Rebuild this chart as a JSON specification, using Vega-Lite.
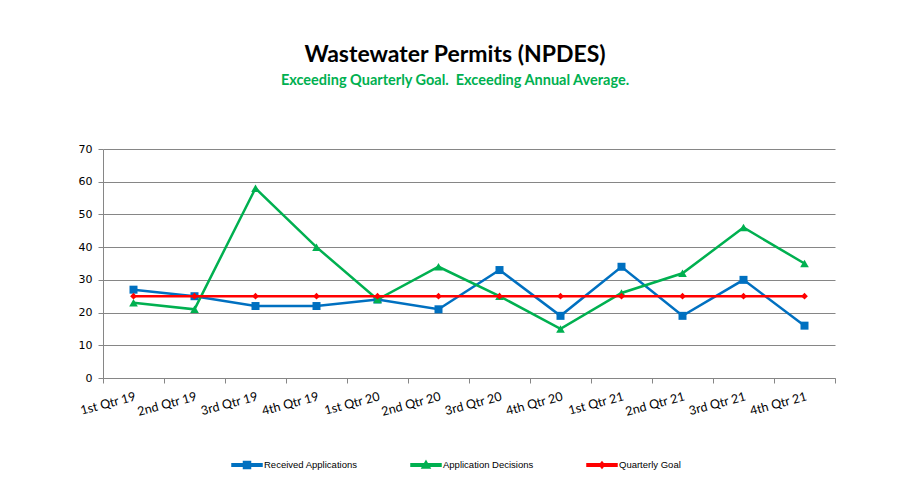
{
  "$schema": "https://vega.github.io/schema/vega-lite/v6.json",
  "autosize": "none",
  "width": 732,
  "height": 229,
  "padding": {"left": 103, "top": 149, "right": 67, "bottom": 118},
  "background": "white",
  "title": {
    "text": "Wastewater Permits (NPDES)",
    "subtitle": "Exceeding Quarterly Goal.\u00a0 Exceeding Annual Average.",
    "anchor": "middle",
    "frame": "group",
    "dx": -14,
    "offset": 56,
    "font": "Lato",
    "fontSize": 23,
    "fontWeight": "bold",
    "color": "#000000",
    "subtitleFont": "Lato",
    "subtitleFontSize": 14.5,
    "subtitleFontWeight": "bold",
    "subtitleColor": "#00B050",
    "subtitlePadding": 7
  },
  "data": {
    "values": [
      {"quarter": "1st Qtr 19", "series": "Received Applications", "value": 27},
      {"quarter": "2nd Qtr 19", "series": "Received Applications", "value": 25},
      {"quarter": "3rd Qtr 19", "series": "Received Applications", "value": 22},
      {"quarter": "4th Qtr 19", "series": "Received Applications", "value": 22},
      {"quarter": "1st Qtr 20", "series": "Received Applications", "value": 24},
      {"quarter": "2nd Qtr 20", "series": "Received Applications", "value": 21},
      {"quarter": "3rd Qtr 20", "series": "Received Applications", "value": 33},
      {"quarter": "4th Qtr 20", "series": "Received Applications", "value": 19},
      {"quarter": "1st Qtr 21", "series": "Received Applications", "value": 34},
      {"quarter": "2nd Qtr 21", "series": "Received Applications", "value": 19},
      {"quarter": "3rd Qtr 21", "series": "Received Applications", "value": 30},
      {"quarter": "4th Qtr 21", "series": "Received Applications", "value": 16},
      {"quarter": "1st Qtr 19", "series": "Application Decisions", "value": 23},
      {"quarter": "2nd Qtr 19", "series": "Application Decisions", "value": 21},
      {"quarter": "3rd Qtr 19", "series": "Application Decisions", "value": 58},
      {"quarter": "4th Qtr 19", "series": "Application Decisions", "value": 40},
      {"quarter": "1st Qtr 20", "series": "Application Decisions", "value": 24},
      {"quarter": "2nd Qtr 20", "series": "Application Decisions", "value": 34},
      {"quarter": "3rd Qtr 20", "series": "Application Decisions", "value": 25},
      {"quarter": "4th Qtr 20", "series": "Application Decisions", "value": 15},
      {"quarter": "1st Qtr 21", "series": "Application Decisions", "value": 26},
      {"quarter": "2nd Qtr 21", "series": "Application Decisions", "value": 32},
      {"quarter": "3rd Qtr 21", "series": "Application Decisions", "value": 46},
      {"quarter": "4th Qtr 21", "series": "Application Decisions", "value": 35},
      {"quarter": "1st Qtr 19", "series": "Quarterly Goal", "value": 25},
      {"quarter": "2nd Qtr 19", "series": "Quarterly Goal", "value": 25},
      {"quarter": "3rd Qtr 19", "series": "Quarterly Goal", "value": 25},
      {"quarter": "4th Qtr 19", "series": "Quarterly Goal", "value": 25},
      {"quarter": "1st Qtr 20", "series": "Quarterly Goal", "value": 25},
      {"quarter": "2nd Qtr 20", "series": "Quarterly Goal", "value": 25},
      {"quarter": "3rd Qtr 20", "series": "Quarterly Goal", "value": 25},
      {"quarter": "4th Qtr 20", "series": "Quarterly Goal", "value": 25},
      {"quarter": "1st Qtr 21", "series": "Quarterly Goal", "value": 25},
      {"quarter": "2nd Qtr 21", "series": "Quarterly Goal", "value": 25},
      {"quarter": "3rd Qtr 21", "series": "Quarterly Goal", "value": 25},
      {"quarter": "4th Qtr 21", "series": "Quarterly Goal", "value": 25}
    ]
  },
  "encoding": {
    "x": {
      "field": "quarter",
      "type": "nominal",
      "sort": null,
      "scale": {"type": "band", "paddingInner": 0, "paddingOuter": 0},
      "axis": {
        "title": null,
        "tickBand": "extent",
        "labelAngle": -15,
        "labelAlign": "right",
        "labelBaseline": "top",
        "labelFont": "Lato",
        "labelFontSize": 12.5,
        "labelColor": "#000000",
        "labelPadding": 7,
        "domainColor": "#868686",
        "tickColor": "#868686",
        "tickSize": 5,
        "grid": false
      }
    },
    "y": {
      "field": "value",
      "type": "quantitative",
      "scale": {"domain": [0, 70], "nice": false},
      "axis": {
        "title": null,
        "values": [0, 10, 20, 30, 40, 50, 60, 70],
        "labelFont": "DejaVu Sans",
        "labelFontSize": 11,
        "labelColor": "#000000",
        "labelPadding": 6,
        "domainColor": "#868686",
        "tickColor": "#868686",
        "tickSize": 5,
        "grid": true,
        "gridColor": "#868686",
        "gridOpacity": 1
      }
    },
    "color": {
      "field": "series",
      "type": "nominal",
      "scale": {
        "domain": ["Received Applications", "Application Decisions", "Quarterly Goal"],
        "range": ["#0070C0", "#00B050", "#FF0000"]
      },
      "legend": {
        "title": null,
        "orient": "none",
        "legendX": 138,
        "legendY": 310,
        "direction": "horizontal",
        "gridAlign": "none",
        "columnPadding": 50,
        "labelFont": "Liberation Sans",
        "labelFontSize": 9.5,
        "labelColor": "#000000",
        "symbolSize": 100,
        "labelOffset": 11,
        "encode": {
          "symbols": {
            "update": {
              "shape": {"signal": "datum.value === 'Received Applications' ? 'M-3,-0.25H3V0.25H-3Z M-0.7,-0.7H0.7V0.7H-0.7Z' : datum.value === 'Application Decisions' ? 'M-3,-0.25H3V0.25H-3Z M0,-0.8L0.8,0.6H-0.8Z' : 'M-3,-0.25H3V0.25H-3Z M0,-0.6L0.5,0L0,0.6L-0.5,0Z'"},
              "fill": {"scale": "color", "field": "value"},
              "stroke": {"value": "transparent"},
              "opacity": {"value": 1}
            }
          }
        }
      }
    },
    "order": {"field": "series"}
  },
  "layer": [
    {
      "transform": [{"filter": "datum.series === 'Received Applications'"}],
      "layer": [
        {"mark": {"type": "line", "strokeWidth": 2.5}},
        {"mark": {"type": "point", "shape": "square", "filled": true, "size": 64, "opacity": 1}}
      ]
    },
    {
      "transform": [{"filter": "datum.series === 'Application Decisions'"}],
      "layer": [
        {"mark": {"type": "line", "strokeWidth": 2.5}},
        {"mark": {"type": "point", "shape": "triangle-up", "filled": true, "size": 75, "opacity": 1}}
      ]
    },
    {
      "transform": [{"filter": "datum.series === 'Quarterly Goal'"}],
      "layer": [
        {"mark": {"type": "line", "strokeWidth": 2.5}},
        {"mark": {"type": "point", "shape": "diamond", "filled": true, "size": 45, "opacity": 1}}
      ]
    }
  ],
  "config": {
    "view": {"stroke": null}
  }
}
